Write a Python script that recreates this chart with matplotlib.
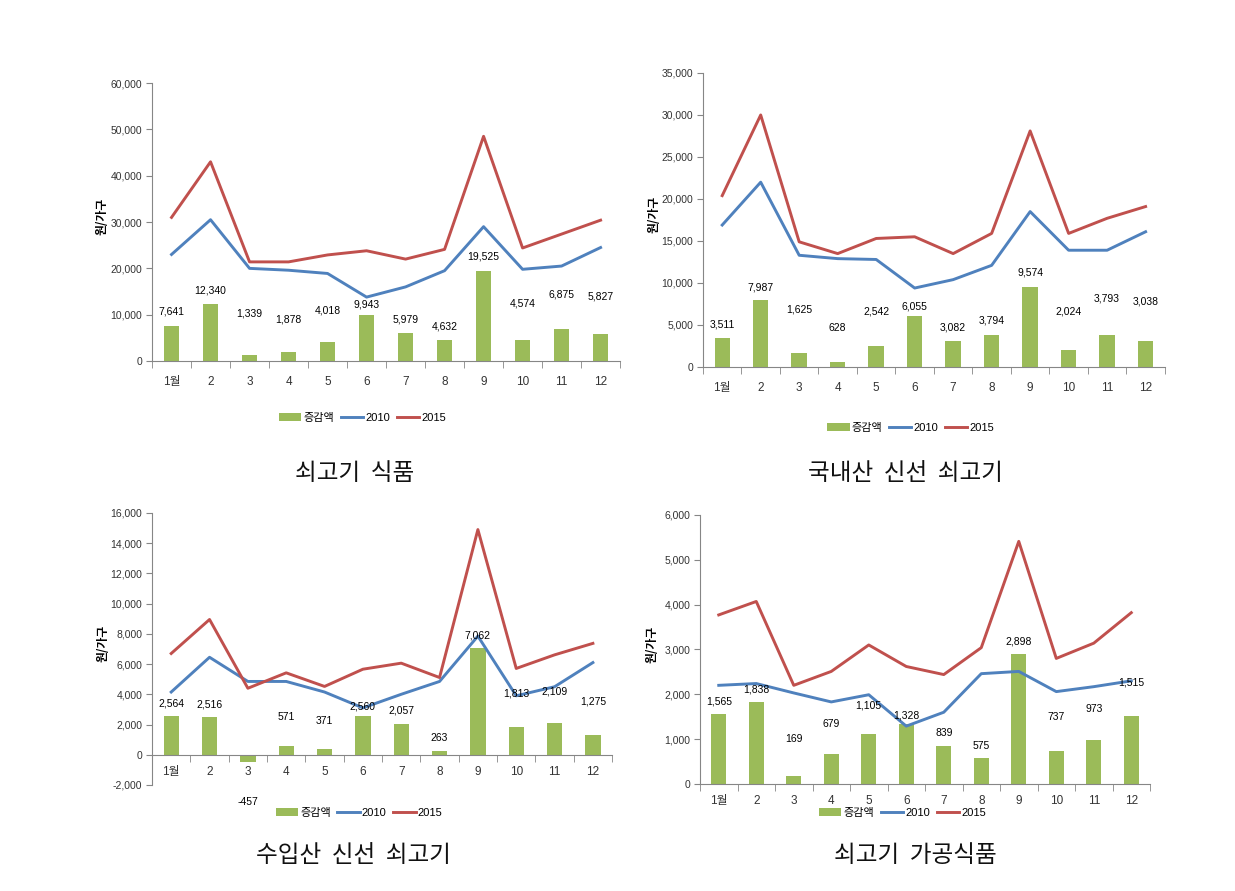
import numpy as np
import matplotlib.pyplot as plt
from matplotlib.ticker import FixedLocator, FuncFormatter
from matplotlib import font_manager

names = {f.name for f in font_manager.fontManager.ttflist}
num_font = 'Liberation Sans Narrow' if 'Liberation Sans Narrow' in names else 'Liberation Sans'
plt.rcParams['font.family'] = [num_font, 'Noto Sans CJK KR', 'DejaVu Sans']

months = ['1월', '2', '3', '4', '5', '6', '7', '8', '9', '10', '11', '12']

# 쇠고기 식품
diff1 = [7641, 12340, 1339, 1878, 4018, 9943, 5979, 4632, 19525, 4574, 6875, 5827]
y2010_1 = [23000, 30500, 20000, 19600, 18900, 13800, 16000, 19500, 29000, 19800, 20500, 24500]
y2015_1 = [31000, 43000, 21400, 21400, 22900, 23800, 22000, 24100, 48500, 24400, 27400, 30400]

# 국내산 신선 쇠고기
diff2 = [3511, 7987, 1625, 628, 2542, 6055, 3082, 3794, 9574, 2024, 3793, 3038]
y2010_2 = [16900, 22000, 13300, 12900, 12800, 9400, 10400, 12100, 18500, 13900, 13900, 16100]
y2015_2 = [20400, 30000, 14900, 13500, 15300, 15500, 13500, 15900, 28100, 15900, 17700, 19100]

# 수입산 신선 쇠고기
diff3 = [2564, 2516, -457, 571, 371, 2560, 2057, 263, 7062, 1813, 2109, 1275]
y2010_3 = [4150, 6450, 4850, 4850, 4150, 3100, 4000, 4850, 7850, 3900, 4500, 6100]
y2015_3 = [6700, 8950, 4400, 5420, 4520, 5660, 6060, 5110, 14900, 5710, 6610, 7370]

# 쇠고기 가공식품
diff4 = [1565, 1838, 169, 679, 1105, 1328, 839, 575, 2898, 737, 973, 1515]
y2010_4 = [2200, 2240, 2030, 1830, 1990, 1290, 1600, 2460, 2510, 2060, 2170, 2300]
y2015_4 = [3770, 4070, 2200, 2510, 3100, 2620, 2440, 3040, 5410, 2800, 3140, 3820]

# where the data labels sit (data units), as placed in the original
lab1 = [10700, 15300, 10300, 8900, 11000, 12100, 8900, 7400, 22500, 12500, 14300, 13900]
lab2 = [5000, 9500, 6800, 4650, 6550, 7250, 4650, 5500, 11300, 6650, 8100, 7750]
lab3 = [3400, 3300, -3100, 2500, 2250, 3200, 2900, 1100, 7900, 4050, 4200, 3500]
lab4 = [1840, 2100, 1000, 1340, 1750, 1520, 1130, 850, 3170, 1490, 1670, 2270]

titles = ['쇠고기  식품', '국내산  신선  쇠고기', '수입산  신선  쇠고기', '쇠고기  가공식품']

GREEN, BLUE, RED = '#9BBB59', '#4F81BD', '#C0504D'
AXC = '#868686'

fig = plt.figure(figsize=(12.35, 8.91), dpi=100)


def panel(rect, diff, v10, v15, lab, ylim, step, leg_y, xpad):
    ax = fig.add_axes(rect)
    x = np.arange(len(months))
    b = ax.bar(x, diff, width=0.4, color=GREEN, label='증감액', zorder=2)
    l1, = ax.plot(x, v10, color=BLUE, lw=2.1, label='2010', zorder=3)
    l2, = ax.plot(x, v15, color=RED, lw=2.1, label='2015', zorder=3)
    for xi, d, ly in zip(x, diff, lab):
        ax.text(xi, ly, f'{d:,}', ha='center', va='center', fontsize=7.5, zorder=4)

    ax.set_xlim(-0.5, 11.5)
    ax.set_ylim(*ylim)
    ax.set_yticks(np.arange(ylim[0], ylim[1] + 1, step))
    ax.yaxis.set_major_formatter(FuncFormatter(lambda v, p: f'{int(v):,}'))
    ax.set_xticks(x)
    ax.set_xticklabels(months)
    ax.xaxis.set_minor_locator(FixedLocator(np.arange(-0.5, 12, 1)))

    for s in ['top', 'right']:
        ax.spines[s].set_visible(False)
    ax.spines['left'].set_color(AXC)
    ax.spines['bottom'].set_color(AXC)
    ax.spines['bottom'].set_position(('data', 0))
    ax.tick_params(axis='y', colors=AXC, labelcolor='#333333', labelsize=7.5, length=4, pad=3)
    ax.tick_params(axis='x', which='major', length=0, labelsize=8.5, pad=xpad, labelcolor='#333333')
    ax.tick_params(axis='x', which='minor', length=5, color=AXC)

    ax.set_ylabel('원/가구', fontsize=8.5, fontweight='bold', family=['Noto Sans CJK KR'])
    ax.yaxis.set_label_coords(-0.092, 0.52)

    ax.legend([b, l1, l2], ['증감액', '2010', '2015'], loc='center',
              bbox_to_anchor=(0.45, leg_y), ncol=3, frameon=False,
              fontsize=8, handlelength=2.0, handleheight=0.7, handletextpad=0.2,
              columnspacing=0.6, borderaxespad=0)
    return ax


panel([0.1231, 0.5948, 0.379, 0.312], diff1, y2010_1, y2015_1, lab1, (0, 60000), 10000, -0.205, 11)
panel([0.5692, 0.5881, 0.374, 0.330], diff2, y2010_2, y2015_2, lab2, (0, 35000), 5000, -0.207, 11)
panel([0.1231, 0.1190, 0.3725, 0.3053], diff3, y2010_3, y2015_3, lab3, (-2000, 16000), 2000, -0.103, 8)
panel([0.5668, 0.1201, 0.3644, 0.302], diff4, y2010_4, y2015_4, lab4, (0, 6000), 1000, -0.108, 8)

tpos = [(355, 474), (906, 474), (353, 856), (915, 856)]
for t, (px, py) in zip(titles, tpos):
    fig.text(px / 1235, 1 - py / 891, t, ha='center', va='center', fontsize=17,
             family=['Noto Sans CJK KR'], color='#111111')

fig.savefig('out.png', dpi=100, facecolor='white')
